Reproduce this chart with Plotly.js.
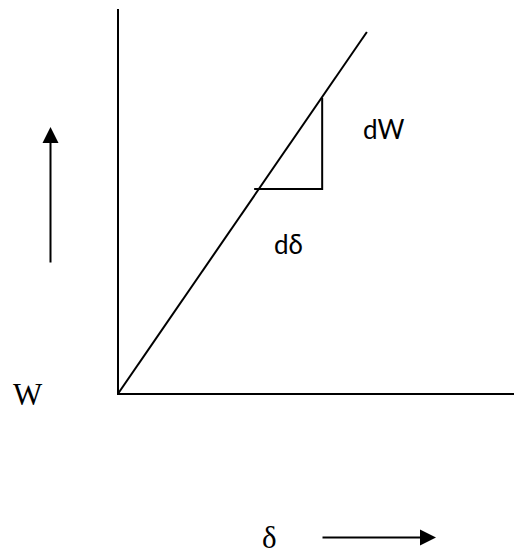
<!DOCTYPE html>
<html>
<head>
<meta charset="utf-8">
<script src="https://cdn.plot.ly/plotly-3.0.1.min.js"></script>
<style>
  html, body { margin: 0; padding: 0; background: white; }
  #chart { width: 514px; height: 557px; }
</style>
</head>
<body>
<div id="chart"></div>
<script>
// W against delta, straight line through the origin
const lineX = [0, 6.28];
const lineY = [0, 9.40];

// slope triangle (d-delta across, dW up)
const triX = [3.43, 5.15, 5.15];
const triY = [5.31, 5.31, 7.68];

const labels = {
    dW: 'dW',
    dDelta: 'dδ',
    W: 'W',
    delta: 'δ'
};

const W = 514, H = 557;
const px = (x) => x / W;
const py = (y) => 1 - y / H;

const traces = [
    {
        x: lineX,
        y: lineY,
        type: 'scatter',
        mode: 'lines',
        line: { color: '#000', width: 2 },
        hoverinfo: 'skip',
        showlegend: false
    },
    {
        x: triX,
        y: triY,
        type: 'scatter',
        mode: 'lines',
        line: { color: '#000', width: 2 },
        hoverinfo: 'skip',
        showlegend: false
    }
];

const axisCommon = {
    range: [0, 10],
    showline: true,
    linecolor: '#000',
    linewidth: 2,
    showgrid: false,
    zeroline: false,
    showticklabels: false,
    ticks: '',
    fixedrange: true
};

const sans = 'Lato, "Open Sans", sans-serif';
const serif = '"Liberation Serif", "DejaVu Serif", serif';

const layout = {
    width: W,
    height: H,
    margin: { l: 0, r: 0, t: 0, b: 0 },
    paper_bgcolor: 'white',
    plot_bgcolor: 'white',
    showlegend: false,
    xaxis: Object.assign({}, axisCommon, { domain: [px(118.5), 1] }),
    yaxis: Object.assign({}, axisCommon, { domain: [py(393), py(9)] }),
    annotations: [
        // up arrow beside the W axis
        {
            xref: 'paper', yref: 'paper',
            x: px(50.5), y: py(127),
            ax: 0, ay: 137,
            text: '', showarrow: true,
            arrowhead: 2, arrowsize: 1.6, arrowwidth: 2, arrowcolor: '#000'
        },
        // right arrow beside delta
        {
            xref: 'paper', yref: 'paper',
            x: px(436), y: py(537.5),
            ax: -115, ay: 0,
            text: '', showarrow: true,
            arrowhead: 2, arrowsize: 1.6, arrowwidth: 2, arrowcolor: '#000'
        },
        {
            xref: 'paper', yref: 'paper', x: px(383), y: py(129),
            text: labels.dW, showarrow: false,
            xanchor: 'center', yanchor: 'middle',
            font: { family: sans, size: 26, color: '#000' }
        },
        {
            xref: 'paper', yref: 'paper', x: px(288), y: py(244),
            text: labels.dDelta, showarrow: false,
            xanchor: 'center', yanchor: 'middle',
            font: { family: sans, size: 26, color: '#000' }
        },
        {
            xref: 'paper', yref: 'paper', x: px(28), y: py(394),
            text: labels.W, showarrow: false,
            xanchor: 'center', yanchor: 'middle',
            font: { family: serif, size: 31, color: '#000' }
        },
        {
            xref: 'paper', yref: 'paper', x: px(269.5), y: 0,
            text: labels.delta, showarrow: false,
            xanchor: 'center', yanchor: 'bottom',
            font: { family: serif, size: 31, color: '#000' }
        }
    ]
};

Plotly.newPlot('chart', traces, layout, { displayModeBar: false, staticPlot: true });
</script>
</body>
</html>
